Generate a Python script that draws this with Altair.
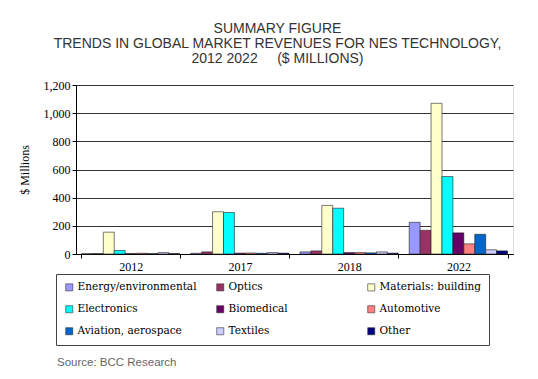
import altair as alt
import pandas as pd

years = ["2012", "2017", "2018", "2022"]
series = ["Energy/environmental", "Optics", "Materials: building",
          "Electronics", "Biomedical", "Automotive",
          "Aviation, aerospace", "Textiles", "Other"]
colors = ["#9999FF", "#993366", "#FFFFCC", "#00FFFF", "#660066",
          "#FF8080", "#0066CC", "#CCCCFF", "#000080"]

energy = [2, 5, 15, 225]
optics = [3, 15, 22, 168]
materials = [155, 300, 345, 1070]
electronics = [25, 295, 325, 550]
biomedical = [3, 6, 10, 150]
automotive = [5, 7, 10, 72]
aviation = [3, 5, 8, 140]
textiles = [10, 10, 15, 30]
other = [3, 6, 6, 22]

values = [energy, optics, materials, electronics, biomedical,
          automotive, aviation, textiles, other]

source_note = ["Source: BCC Research"]

rows = []
for s, vals in zip(series, values):
    for y, v in zip(years, vals):
        rows.append({"year": y, "series": s, "value": v})
df = pd.DataFrame(rows)

serif = "Liberation Serif"
lserif = "DejaVu Serif"
sans = "Liberation Sans"
nb = "\u00a0"

bars = alt.Chart(df).mark_bar(stroke="#222", strokeWidth=0.6).encode(
    x=alt.X("year:N", sort=years, title=None,
            scale=alt.Scale(paddingInner=0.1, paddingOuter=0.05),
            axis=alt.Axis(labelAngle=0, labelFont=serif, labelFontSize=12,
                          labelColor="#000", tickBand="extent", tickColor="#000",
                          domainColor="#000", labelPadding=3, tickSize=4)),
    xOffset=alt.XOffset("series:N", sort=series),
    y=alt.Y("value:Q", title="$ Millions",
            scale=alt.Scale(domain=[0, 1200]),
            axis=alt.Axis(values=[0, 200, 400, 600, 800, 1000, 1200], format=",.0f",
                          labelFont=serif, labelFontSize=12, labelColor="#000",
                          titleFont=serif, titleFontSize=12, titleFontWeight="normal",
                          titleColor="#000", titlePadding=12,
                          gridColor="#333", gridWidth=1, domainColor="#000",
                          tickColor="#000", tickSize=4)),
    color=alt.Color("series:N", sort=series,
                    scale=alt.Scale(domain=series, range=colors),
                    legend=alt.Legend(title=None, orient="none", legendX=-20, legendY=189,
                                      direction="horizontal",
                                      columns=3, gridAlign="all", columnPadding=18,
                                      rowPadding=11, symbolType="square", symbolSize=50,
                                      symbolStrokeColor="#333", symbolStrokeWidth=0.6,
                                      labelFont=lserif, labelFontSize=10.5, labelOffset=3,
                                      labelColor="#000", labelLimit=200,
                                      strokeColor="#444", padding=8,
                                      fillColor="white")),
)

source = alt.Chart(pd.DataFrame({"t": source_note})).mark_text(
    align="left", baseline="middle",
    font=sans, fontSize=11.5, color="#666"
).encode(text="t:N", x=alt.value(-19), y=alt.value(278))

chart = alt.layer(bars, source).properties(
    width=437, height=169,
    title=alt.TitleParams(
        text=["SUMMARY FIGURE",
              "TRENDS IN GLOBAL MARKET REVENUES FOR NES TECHNOLOGY,",
              "2012 2022" + nb * 5 + "($ MILLIONS)"],
        font=sans, fontSize=14, fontWeight="normal", color="#333",
        lineHeight=15, anchor="middle", dx=-17, offset=13),
    autosize=alt.AutoSizeParams(type="none"),
    padding={"left": 68, "top": 77, "right": 17, "bottom": 117},
).configure_view(stroke="#666", strokeWidth=1).configure(background="white")

chart.save("out.html", embed_options={"renderer": "svg", "actions": False})
